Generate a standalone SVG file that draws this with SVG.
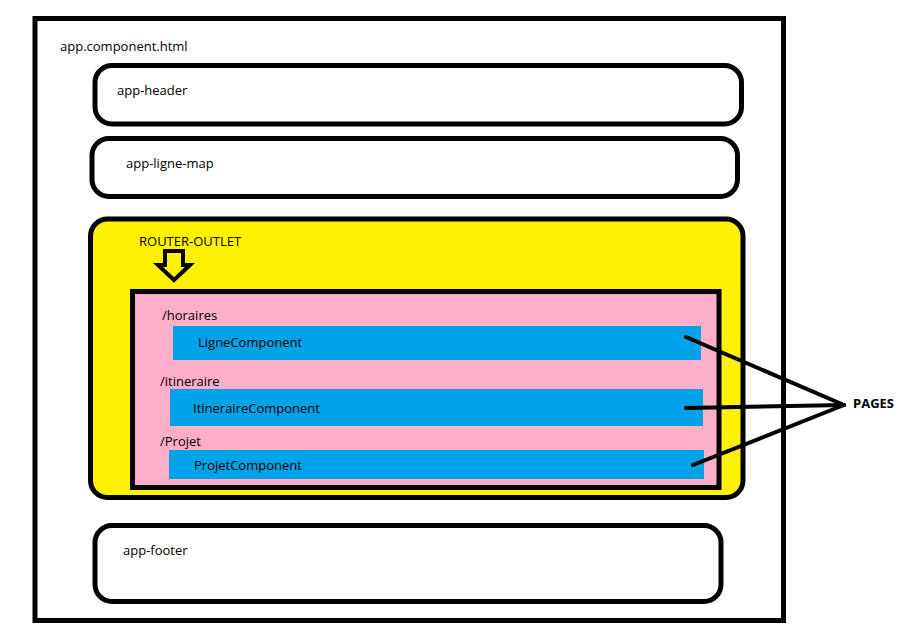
<svg xmlns="http://www.w3.org/2000/svg" width="908" height="636" viewBox="0 0 908 636">
<style>
.t{font-family:"Open Sans","Noto Sans","Liberation Sans",sans-serif;font-size:13px;fill:#000}
.b{fill:#fff;stroke:#000;stroke-width:5}
.blue{fill:#00A2E8}
.c{stroke:#000;stroke-width:4;stroke-linecap:round;fill:none}
</style>
<rect width="908" height="636" fill="#fff"/>
<g id="app-component">
<rect x="35" y="18.5" width="748.5" height="602" fill="#fff" stroke="#000" stroke-width="5"/>
<text class="t" x="60" y="51">app.component.html</text>
</g>
<g id="app-header">
<rect class="b" x="95" y="65.5" width="646.5" height="58.5" rx="17"/>
<text class="t" x="117" y="95">app-header</text>
</g>
<g id="app-ligne-map">
<rect class="b" x="92" y="138.5" width="645.5" height="58" rx="17"/>
<text class="t" x="126" y="168">app-ligne-map</text>
</g>
<g id="router-outlet">
<rect x="90.5" y="219" width="652.5" height="278.5" rx="17" fill="#FFF200" stroke="#000" stroke-width="5"/>
<text class="t" x="139" y="246" font-size="12">ROUTER-OUTLET</text>
<path d="M165 251 H183 V265 H190 L174 280 L158 265 H165 Z" fill="none" stroke="#000" stroke-width="4" stroke-linejoin="miter"/>
</g>
<g id="pages-container">
<rect x="132.5" y="291.5" width="586.5" height="196" fill="#FFAEC9" stroke="#000" stroke-width="5"/>
</g>
<g id="horaires">
<text class="t" x="162" y="320">/horaires</text>
<rect class="blue" x="173" y="326" width="528" height="34"/>
<text class="t" x="198" y="347">LigneComponent</text>
</g>
<g id="itineraire">
<text class="t" x="160" y="386">/itineraire</text>
<rect class="blue" x="170" y="389" width="533" height="37"/>
<text class="t" x="193" y="413">ItineraireComponent</text>
</g>
<g id="projet">
<text class="t" x="160" y="446">/Projet</text>
<rect class="blue" x="169" y="450" width="535" height="29"/>
<text class="t" x="194" y="470">ProjetComponent</text>
</g>
<g id="app-footer">
<rect class="b" x="95" y="525.5" width="626" height="76" rx="17"/>
<text class="t" x="123" y="555">app-footer</text>
</g>
<g id="connectors">
<line class="c" x1="686" y1="337" x2="844" y2="405"/>
<line class="c" x1="686" y1="408" x2="844" y2="405"/>
<line class="c" x1="693" y1="465" x2="844" y2="405"/>
</g>
<g id="pages">
<text class="t" x="853" y="408" font-size="12" font-weight="bold">PAGES</text>
</g>
</svg>
